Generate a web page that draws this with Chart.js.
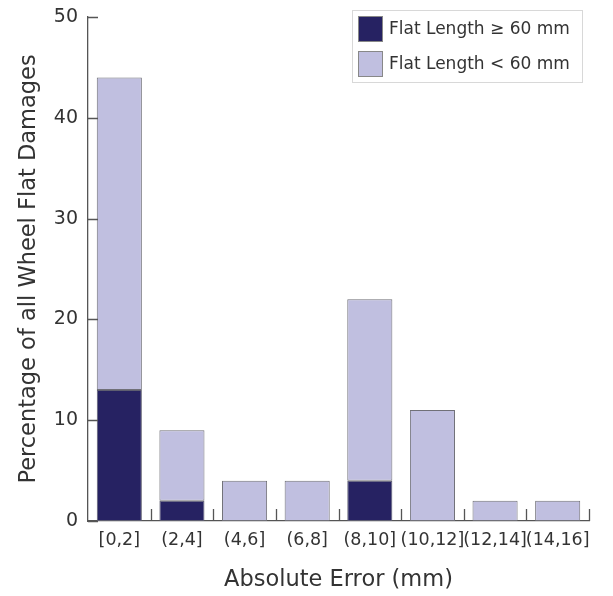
<!DOCTYPE html>
<html>
<head>
<meta charset="utf-8">
<script src="https://cdn.jsdelivr.net/npm/chart.js@4"></script>
<style>
  body { margin: 0; background: #fff; }
  #wrap { width: 613px; height: 596px; }
</style>
</head>
<body>
<div id="wrap"><canvas id="histChart" width="613" height="596"></canvas></div>
<script>
// bins of the absolute error
var categories = ["[0,2]", "(2,4]", "(4,6]", "(6,8]", "(8,10]", "(10,12]", "(12,14]", "(14,16]"];
// percentages, stacked: long flats at the bottom, short flats on top
var longFlats = [13, 2, 0, 0, 4, 0, 0, 0];
var shortFlats = [31, 7, 4, 4, 18, 11, 2, 2];
var yTicks = [0, 10, 20, 30, 40, 50];

var darkColor = '#262262';
var lightColor = '#c0bfe0';
var axisColor = '#555555';
var textColor = '#333333';
var font = "'DejaVu Sans', sans-serif";

// inward tick marks + boxed legend, like the original figure
var figureBits = {
  id: 'figureBits',
  afterDraw: function(chart) {
    var ctx = chart.ctx;
    var x = chart.scales.x;
    var y = chart.scales.y;
    var area = chart.chartArea;
    ctx.save();
    ctx.strokeStyle = axisColor;
    ctx.lineWidth = 1.3;
    ctx.beginPath();
    yTicks.forEach(function(v) {
      var py = Math.round(y.getPixelForValue(v)) + 0.5;
      ctx.moveTo(area.left, py);
      ctx.lineTo(area.left + 10, py);
    });
    for (var k = 1; k <= categories.length; k++) {
      var px = Math.round(x.getPixelForValue(k - 0.5)) + 0.5;
      ctx.moveTo(px, area.bottom);
      ctx.lineTo(px, area.bottom - 12);
    }
    ctx.stroke();

    // legend
    var bx = area.right - 237, by = area.top - 7, bw = 230, bh = 72;
    ctx.fillStyle = '#ffffff';
    ctx.fillRect(bx, by, bw, bh);
    ctx.strokeStyle = '#d8d8d8';
    ctx.lineWidth = 1;
    ctx.strokeRect(bx + 0.5, by + 0.5, bw, bh);
    var ds = chart.data.datasets;
    ctx.font = '17px ' + font;
    ctx.textBaseline = 'middle';
    ds.forEach(function(d, i) {
      var ry = by + 6 + i * 35;
      ctx.fillStyle = d.backgroundColor;
      ctx.fillRect(bx + 6, ry, 25, 26);
      ctx.strokeStyle = '#888888';
      ctx.strokeRect(bx + 6.5, ry + 0.5, 24, 25);
      ctx.fillStyle = textColor;
      ctx.fillText(d.label, bx + 37, ry + 14);
    });
    ctx.restore();
  }
};

var chart = new Chart(document.getElementById('histChart').getContext('2d'), {
  type: 'bar',
  data: {
    labels: categories,
    datasets: [{
      label: 'Flat Length \u2265 60 mm',
      data: longFlats,
      backgroundColor: darkColor,
      borderColor: '#5e5e70',
      borderWidth: 1,
      borderSkipped: false
    }, {
      label: 'Flat Length < 60 mm',
      data: shortFlats,
      backgroundColor: lightColor,
      borderColor: '#707078',
      borderWidth: 1,
      borderSkipped: false
    }]
  },
  options: {
    responsive: false,
    animation: false,
    categoryPercentage: 1.0,
    barPercentage: 0.72,
    layout: { padding: { top: 17, right: 24, left: 0, bottom: 0 } },
    plugins: {
      legend: { display: false },
      tooltip: { enabled: false }
    },
    scales: {
      x: {
        stacked: true,
        afterFit: function(s) { s.height = 75; },
        grid: { display: false, drawTicks: false },
        border: { display: true, color: axisColor, width: 1.3 },
        ticks: { color: textColor, font: { family: font, size: 17.5 }, padding: 9, maxRotation: 0, autoSkip: false },
        title: {
          display: true,
          text: 'Absolute Error (mm)',
          color: textColor,
          font: { family: font, size: 22.5 },
          padding: { top: 0, bottom: 2 }
        }
      },
      y: {
        stacked: true,
        min: 0,
        max: 50,
        afterFit: function(s) { s.width = 88; s.paddingTop = 0; s.paddingBottom = 0; },
        afterBuildTicks: function(s) { s.ticks = yTicks.map(function(v) { return { value: v }; }); },
        grid: { display: false, drawTicks: false },
        border: { display: true, color: axisColor, width: 1.3 },
        ticks: { color: textColor, font: { family: font, size: 19, lineHeight: 1 }, padding: 10 },
        title: {
          display: true,
          text: 'Percentage of all Wheel Flat Damages',
          color: textColor,
          font: { family: font, size: 22.5 },
          padding: { top: 16, bottom: 0 }
        }
      }
    }
  },
  plugins: [figureBits]
});
</script>
</body>
</html>
